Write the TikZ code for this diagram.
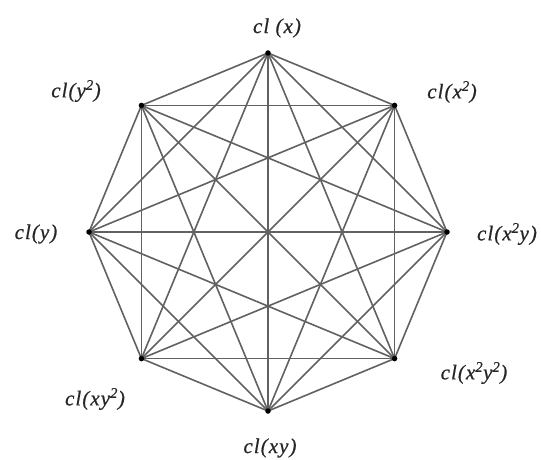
\documentclass[tikz,border=0pt]{standalone}
\usepackage{fontspec}
\setmainfont{Liberation Serif}[LetterSpace=5,FakeBold=0.6]
\usetikzlibrary{backgrounds}
\tikzset{
  vdot/.style={circle,fill=black,inner sep=0pt,minimum size=5.5pt},
  edge/.style={draw=black!62,line width=1.6pt},
  lbl/.style={font=\itshape\fontsize{21}{24}\selectfont,inner sep=0pt,text=black!85}
}
\begin{document}
\begin{tikzpicture}[x=1pt,y=-1pt]
\useasboundingbox (0,0) rectangle (541,460);
\foreach \i/\a in {1/90,2/45,3/0,4/-45,5/-90,6/-135,7/180,8/135}{
  \node[vdot] (v\i) at ({268+179*cos(\a)},{232-179*sin(\a)}) {};
}
\begin{pgfonlayer}{background}
\foreach \i in {1,...,8}{
  \foreach \j in {1,...,8}{
    \ifnum\i<\j
      \draw[edge] (v\i.center) -- (v\j.center);
    \fi
  }
}
\end{pgfonlayer}
\node[lbl] (l1) at (277,28) {cl (x)};
\node[lbl] (l2) at (452,92) {cl(x\textsuperscript{2})};
\node[lbl] (l3) at (507,234) {cl(x\textsuperscript{2}y)};
\node[lbl] (l4) at (474,373) {cl(x\textsuperscript{2}y\textsuperscript{2})};
\node[lbl] (l5) at (270,448) {cl(xy)};
\node[lbl] (l6) at (95,399) {cl(xy\textsuperscript{2})};
\node[lbl] (l7) at (36,234) {cl(y)};
\node[lbl] (l8) at (76,91) {cl(y\textsuperscript{2})};
\end{tikzpicture}
\end{document}
